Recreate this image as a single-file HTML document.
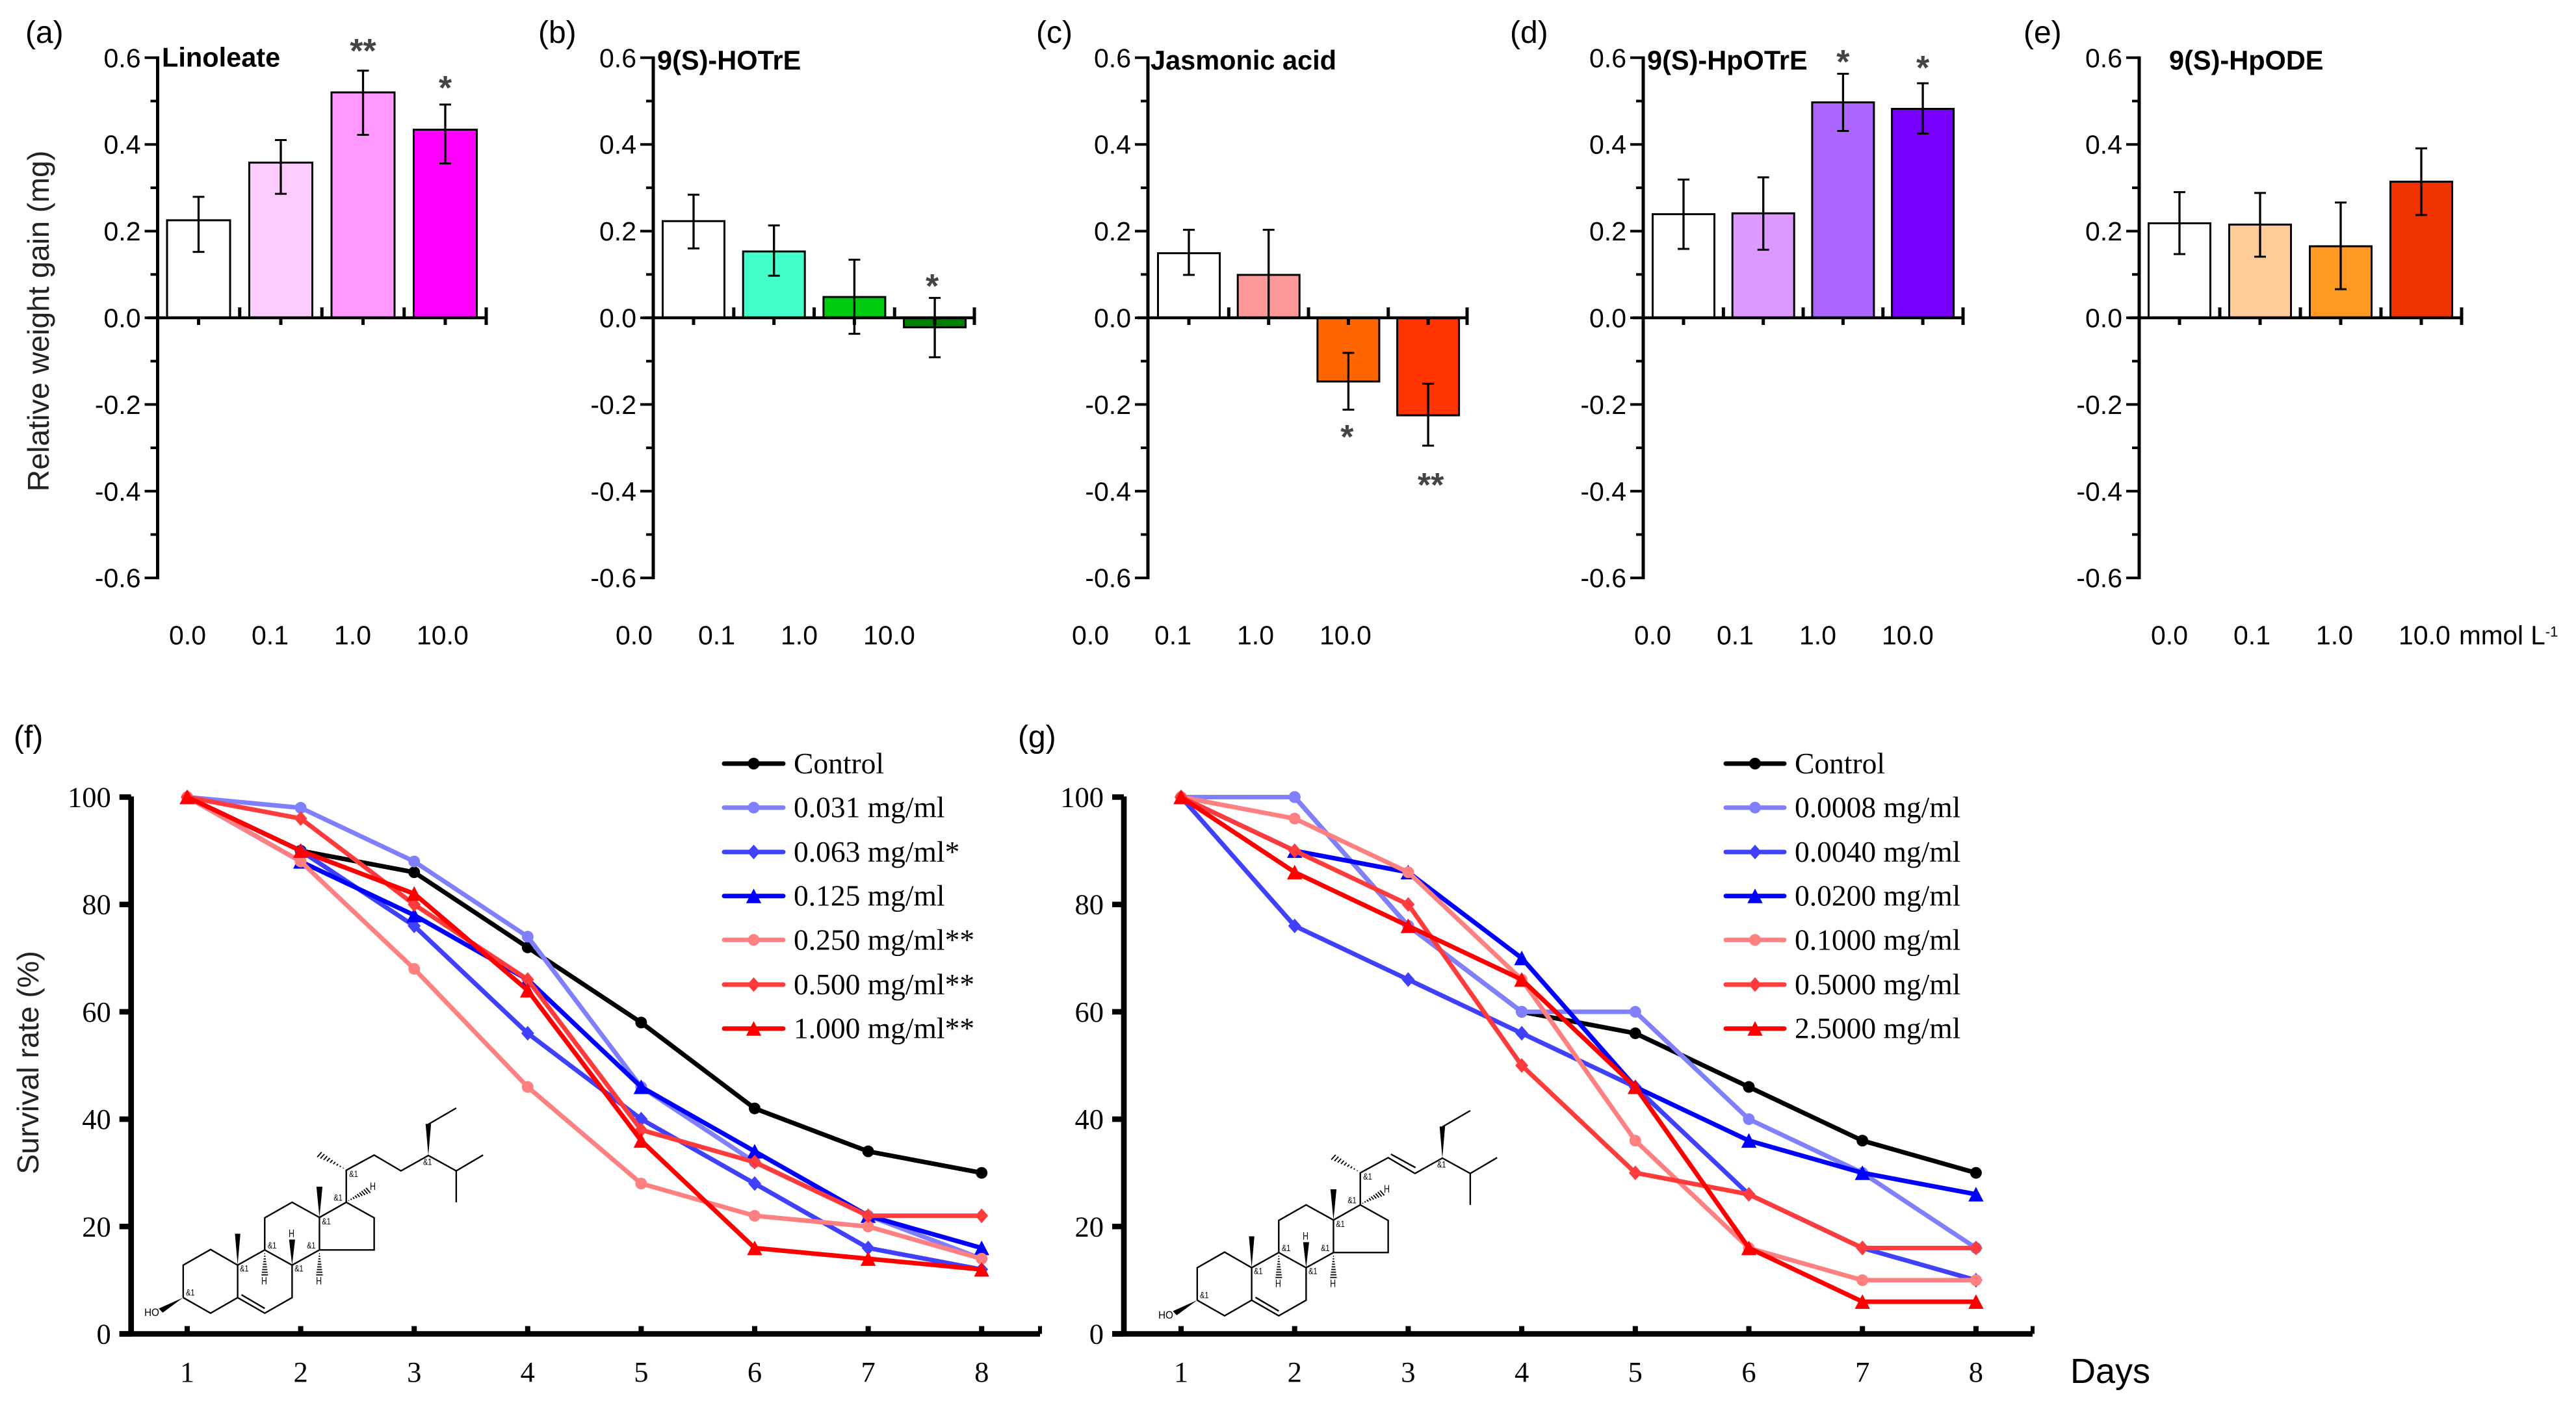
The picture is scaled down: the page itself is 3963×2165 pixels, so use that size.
<!DOCTYPE html>
<html lang="en">
<head>
<meta charset="utf-8">
<title>Weight gain and survival charts</title>
<style>
html,body{margin:0;padding:0;background:#fff;}
svg{display:block;}
.sans{font-family:"Liberation Sans",Arial,sans-serif;}
.serif{font-family:"Liberation Serif","Times New Roman",serif;}
</style>
</head>
<body>
<svg id="figure" xmlns="http://www.w3.org/2000/svg" width="3963" height="2165" viewBox="0 0 3963 2165"></svg>
<script>
// ---------- Bar chart data ----------
const yTickValues = [0.6, 0.4, 0.2, 0.0, -0.2, -0.4, -0.6];
const yTickLabels = ['0.6', '0.4', '0.2', '0.0', '-0.2', '-0.4', '-0.6'];
const yMinorValues = [0.5, 0.3, 0.1, -0.1, -0.3, -0.5];
const doseLabels = ['0.0', '0.1', '1.0', '10.0'];

const linoleateValues = [0.225, 0.358, 0.52, 0.434];
const linoleateHigh = [0.279, 0.41, 0.57, 0.492];
const linoleateLow = [0.152, 0.286, 0.422, 0.356];
const linoleateStars = ['', '', '**', '*'];

const hotreValues = [0.223, 0.153, 0.048, -0.022];
const hotreHigh = [0.284, 0.213, 0.134, 0.046];
const hotreLow = [0.16, 0.097, -0.037, -0.091];
const hotreStars = ['', '', '', '*'];

const jasmonicValues = [0.149, 0.099, -0.147, -0.225];
const jasmonicHigh = [0.203, 0.203, -0.081, -0.152];
const jasmonicLow = [0.099, 0.0, -0.212, -0.295];
const jasmonicStars = ['', '', '*', '**'];

const hpotreValues = [0.239, 0.241, 0.497, 0.482];
const hpotreHigh = [0.319, 0.324, 0.563, 0.541];
const hpotreLow = [0.159, 0.157, 0.431, 0.425];
const hpotreStars = ['', '', '*', '*'];

const hpodeValues = [0.218, 0.215, 0.165, 0.314];
const hpodeHigh = [0.29, 0.288, 0.266, 0.391];
const hpodeLow = [0.147, 0.141, 0.066, 0.237];
const hpodeStars = ['', '', '', ''];

// ---------- Line chart data ----------
const days = [1, 2, 3, 4, 5, 6, 7, 8];
const survivalTicks = [100, 80, 60, 40, 20, 0];

const fControl = [100, 90, 86, 72, 58, 42, 34, 30];
const f0031 = [100, 98, 88, 74, 46, 32, 22, 14];
const f0063 = [100, 90, 76, 56, 40, 28, 16, 12];
const f0125 = [100, 88, 78, 66, 46, 34, 22, 16];
const f0250 = [100, 88, 68, 46, 28, 22, 20, 14];
const f0500 = [100, 96, 80, 66, 38, 32, 22, 22];
const f1000 = [100, 90, 82, 64, 36, 16, 14, 12];
const fLabels = ['Control', '0.031 mg/ml', '0.063 mg/ml*', '0.125 mg/ml', '0.250 mg/ml**', '0.500 mg/ml**', '1.000 mg/ml**'];

const gControl = [100, 100, 76, 60, 56, 46, 36, 30];
const g00008 = [100, 100, 76, 60, 60, 40, 30, 16];
const g00040 = [100, 76, 66, 56, 46, 26, 16, 10];
const g00200 = [100, 90, 86, 70, 46, 36, 30, 26];
const g01000 = [100, 96, 86, 66, 36, 16, 10, 10];
const g05000 = [100, 90, 80, 50, 30, 26, 16, 16];
const g25000 = [100, 86, 76, 66, 46, 16, 6, 6];
const gLabels = ['Control', '0.0008 mg/ml', '0.0040 mg/ml', '0.0200 mg/ml', '0.1000 mg/ml', '0.5000 mg/ml', '2.5000 mg/ml'];

// ---------- Helpers ----------
const NS = 'http://www.w3.org/2000/svg';
const root = document.getElementById('figure');

function mk(parent, tag, attrs, name) {
  const el = document.createElementNS(NS, tag);
  for (const k in attrs) el.setAttribute(k, attrs[k]);
  
  
  parent.appendChild(el);
  return el;
}
function line(p, x1, y1, x2, y2, w, color, name) {
  return mk(p, 'line', {x1: x1, y1: y1, x2: x2, y2: y2, stroke: color || '#000', 'stroke-width': w}, name);
}
function txt(p, x, y, s, size, cls, name, extra) {
  const a = {x: x, y: y, 'font-size': size, class: cls, fill: '#000'};
  if (extra) for (const k in extra) a[k] = extra[k];
  const el = mk(p, 'text', a, name);
  el.textContent = s;
  return el;
}

// ---------- Bar panels ----------
const yTop = v => 489 - v * 667;

const panels = [
  {id: 'a', axis: 242.5, first: 305.5, step: 126.5, barW: 97, end: 748, lab: 260, letter: '(a)', letterX: 39, title: 'Linoleate', titleX: 249, titleY: 88,
   vals: linoleateValues, hi: linoleateHigh, lo: linoleateLow, stars: linoleateStars, colors: ['#ffffff', '#ffccff', '#ff99ff', '#ff00ff'],
   starDx: [0, 0, 0, 0], starY: [0, 0, 72, 129]},
  {id: 'b', axis: 1005, first: 1067, step: 123.7, barW: 95, end: 1499, lab: 947, letter: '(b)', letterX: 828, title: '9(S)-HOTrE', titleX: 1011, titleY: 92.6,
   vals: hotreValues, hi: hotreHigh, lo: hotreLow, stars: hotreStars, colors: ['#ffffff', '#44ffcc', '#00cc11', '#008000'],
   starDx: [0, 0, 0, -4], starY: [0, 0, 0, 434]},
  {id: 'c', axis: 1766, first: 1829, step: 122.7, barW: 95, end: 2257, lab: 1649, letter: '(c)', letterX: 1594, title: 'Jasmonic acid', titleX: 1770, titleY: 92.6,
   vals: jasmonicValues, hi: jasmonicHigh, lo: jasmonicLow, stars: jasmonicStars, colors: ['#ffffff', '#ff9999', '#ff6600', '#ff3300'],
   starDx: [0, 0, -2, 4], starY: [0, 0, 666, 740]},
  {id: 'd', axis: 2528, first: 2590, step: 122.7, barW: 95, end: 3020, lab: 2514, letter: '(d)', letterX: 2323, title: '9(S)-HpOTrE', titleX: 2534, titleY: 92.6,
   vals: hpotreValues, hi: hpotreHigh, lo: hpotreLow, stars: hpotreStars, colors: ['#ffffff', '#dd99ff', '#aa66ff', '#7700ff'],
   starDx: [0, 0, 0, 0], starY: [0, 0, 89, 98]},
  {id: 'e', axis: 3291, first: 3353, step: 124, barW: 95, end: 3787, lab: 3309, letter: '(e)', letterX: 3113, title: '9(S)-HpODE', titleX: 3337, titleY: 92.6,
   vals: hpodeValues, hi: hpodeHigh, lo: hpodeLow, stars: hpodeStars, colors: ['#ffffff', '#ffcc99', '#ff9922', '#ee3300'],
   starDx: [0, 0, 0, 0], starY: [0, 0, 0, 0]}
];

panels.forEach(function (P) {
  const g = mk(root, 'g', {}, 'panel-' + P.id);
  const xAt = i => P.first + i * P.step;

  txt(g, P.letterX, 66, P.letter, 48, 'sans', 'panel-label-' + P.id);
  txt(g, P.titleX, P.titleY + 14.5, P.title, 41.5, 'sans', 'panel-title-' + P.id, {'font-weight': 'bold'});

  // bars
  P.vals.forEach(function (v, i) {
    const y1 = yTop(Math.max(v, 0)), y2 = yTop(Math.min(v, 0));
    mk(g, 'rect', {x: xAt(i) - P.barW / 2, y: y1, width: P.barW, height: y2 - y1, fill: P.colors[i], stroke: '#000', 'stroke-width': 3}, 'bar-' + P.id + '-' + doseLabels[i]);
  });

  // y axis
  line(g, P.axis, yTop(0.6) - 2, P.axis, yTop(-0.6) + 2, 5, '#000', 'y-axis-' + P.id);
  yTickValues.forEach(function (v, i) {
    line(g, P.axis - 20, yTop(v), P.axis, yTop(v), 4, '#000', 'y-tick-' + P.id);
    txt(g, P.axis - 26, yTop(v) + 14.5, yTickLabels[i], 41, 'sans', 'y-tick-label-' + P.id, {'text-anchor': 'end'});
  });
  yMinorValues.forEach(function (v) {
    line(g, P.axis - 11, yTop(v), P.axis, yTop(v), 4, '#000', 'y-minor-tick-' + P.id);
  });

  // x axis at zero
  line(g, P.axis - 16, yTop(0), P.end + 2, yTop(0), 4.5, '#000', 'x-axis-' + P.id);
  doseLabels.forEach(function (s, i) {
    line(g, xAt(i), yTop(0), xAt(i), yTop(0) + 11, 5, '#000', 'x-tick-' + P.id);
    if (i > 0) line(g, xAt(i) - P.step / 2, yTop(0) - 16, xAt(i) - P.step / 2, yTop(0), 5, '#000', 'x-minor-tick-' + P.id);
    txt(g, P.lab + i * 127, 991.5, s, 41, 'sans', 'x-tick-label-' + P.id);
  });
  line(g, P.end, yTop(0) - 16, P.end, yTop(0) + 11, 5, '#000', 'x-axis-end-tick-' + P.id);

  // error bars
  P.vals.forEach(function (v, i) {
    const x = xAt(i), t = yTop(P.hi[i]), b = yTop(P.lo[i]);
    line(g, x, t, x, b, 3.3, '#000', 'error-bar-' + P.id);
    line(g, x - 9, t, x + 9, t, 3, '#000', 'error-cap-high-' + P.id);
    line(g, x - 9, b, x + 9, b, 3, '#000', 'error-cap-low-' + P.id);
  });

  // significance stars
  P.stars.forEach(function (s, i) {
    if (!s) return;
    txt(g, xAt(i) + P.starDx[i], P.starY[i] + 24, s, 52, 'sans', 'significance-star-' + P.id, {'text-anchor': 'middle', fill: '#444444', 'font-weight': 'bold'});
  });
});

txt(root, 0, 0, 'Relative weight gain (mg)', 46.5, 'sans', 'y-axis-title-weight', {'text-anchor': 'middle', transform: 'translate(75,494) rotate(-90)', fill: '#222222'});
const unit = txt(root, 3783, 991.5, 'mmol L', 40.5, 'sans', 'x-unit-label');
const unitSup = document.createElementNS(NS, 'tspan');
unitSup.setAttribute('font-size', '22');
unitSup.setAttribute('dy', '-12');
unitSup.textContent = '-1';
unit.appendChild(unitSup);

// ---------- Line panels ----------
const ySurv = v => 2052.5 - v * 8.26;
const seriesColors = ['#000000', '#8080ff', '#4040ff', '#0000ff', '#ff8080', '#ff3b3b', '#ff0000'];
const seriesMarkers = ['circle', 'circle', 'diamond', 'triangle', 'circle', 'diamond', 'triangle'];

function marker(p, type, x, y, color, name) {
  if (type === 'circle') {
    mk(p, 'circle', {cx: x, cy: y, r: 9, fill: color}, name);
  } else if (type === 'diamond') {
    mk(p, 'polygon', {points: (x - 10) + ',' + y + ' ' + x + ',' + (y - 11.3) + ' ' + (x + 10) + ',' + y + ' ' + x + ',' + (y + 11.3), fill: color}, name);
  } else {
    mk(p, 'polygon', {points: (x - 11.7) + ',' + (y + 11) + ' ' + x + ',' + (y - 11.5) + ' ' + (x + 11.7) + ',' + (y + 11), fill: color}, name);
  }
}

function linePanel(cfg) {
  const g = mk(root, 'g', {}, 'panel-' + cfg.id);
  const xs = d => cfg.first + (d - 1) * cfg.step;

  txt(g, cfg.letterX, 1150, cfg.letter, 48, 'sans', 'panel-label-' + cfg.id);

  line(g, cfg.axis, ySurv(100) - 1, cfg.axis, ySurv(0) + 4, 8.7, '#000', 'y-axis-' + cfg.id);
  line(g, cfg.axis - 18, ySurv(0), cfg.end, ySurv(0), 8.5, '#000', 'x-axis-' + cfg.id);
  line(g, cfg.end, ySurv(0) - 12, cfg.end, ySurv(0), 6, '#000', 'x-axis-end-tick-' + cfg.id);

  survivalTicks.forEach(function (v) {
    line(g, cfg.axis - 18, ySurv(v), cfg.axis, ySurv(v), 8.5, '#000', 'y-tick-' + cfg.id);
    txt(g, cfg.axis - 31, ySurv(v) + 15, String(v), 44.5, 'serif', 'y-tick-label-' + cfg.id, {'text-anchor': 'end'});
  });
  days.forEach(function (d) {
    line(g, xs(d), ySurv(0) - 12, xs(d), ySurv(0), 8, '#000', 'x-tick-' + cfg.id);
    txt(g, xs(d), 2126, String(d), 44.5, 'serif', 'x-tick-label-' + cfg.id, {'text-anchor': 'middle'});
  });

  cfg.series.forEach(function (vals, s) {
    const sg = mk(g, 'g', {}, 'series-' + cfg.id + '-' + s);
    const pts = vals.map((v, i) => xs(days[i]) + ',' + ySurv(v)).join(' ');
    mk(sg, 'polyline', {points: pts, fill: 'none', stroke: seriesColors[s], 'stroke-width': 7, 'stroke-linejoin': 'round'}, 'line-' + cfg.id + '-' + s);
    vals.forEach(function (v, i) {
      marker(sg, seriesMarkers[s], xs(days[i]), ySurv(v), seriesColors[s], 'point-' + cfg.id + '-' + s);
    });
  });

  const legendY = [1175, 1242.7, 1311, 1378.7, 1446.3, 1515, 1582.7];
  cfg.labels.forEach(function (s, i) {
    const lg = mk(g, 'g', {}, 'legend-entry-' + cfg.id + '-' + i);
    const ll = line(lg, cfg.legX1 + 3, legendY[i], cfg.legX2 - 3, legendY[i], 7, seriesColors[i], 'legend-line');
    ll.setAttribute('stroke-linecap', 'round');
    marker(lg, seriesMarkers[i], (cfg.legX1 + cfg.legX2) / 2, legendY[i], seriesColors[i], 'legend-marker');
    txt(lg, cfg.legT, legendY[i] + 15, s, 45.5, 'serif', 'legend-label');
  });
}

linePanel({id: 'f', letter: '(f)', letterX: 21, axis: 201.7, end: 1600, first: 288, step: 174.6,
  series: [fControl, f0031, f0063, f0125, f0250, f0500, f1000], labels: fLabels, legX1: 1111, legX2: 1208, legT: 1221});
linePanel({id: 'g', letter: '(g)', letterX: 1566, axis: 1729, end: 3127, first: 1817, step: 174.7,
  series: [gControl, g00008, g00040, g00200, g01000, g05000, g25000], labels: gLabels, legX1: 2652, legX2: 2748, legT: 2761});

txt(root, 0, 0, 'Survival rate (%)', 46.5, 'sans', 'y-axis-title-survival', {'text-anchor': 'middle', transform: 'translate(59,1635) rotate(-90)', fill: '#222222'});
txt(root, 3185, 2128, 'Days', 54, 'sans', 'x-axis-title-days');

// ---------- Sterol structures ----------
function sterol(ox, oy, unsaturated, name) {
  const g = mk(root, 'g', {}, name);
  const X = z => ox + z / 2.376, Y = z => oy + z / 3;
  const paths = [
    [[242,1040],[242,890],[342,818],[441,890],[441,1040],[342,1112],[242,1040]],
    [[441,890],[540,820],[640,890],[640,1040],[540,1112],[441,1040]],
    [[540,820],[540,672],[640,600],[740,670],[740,820],[640,890]],
    [[740,670],[838,600],[940,672],[940,820],[740,820]],
    [[838,600],[838,452],[940,382],[1038,455],[1138,384],[1240,455],[1338,382]],
    [[1240,455],[1240,600]],
    [[1138,240],[1240,165]],
    [[455,1027],[540,1090]]
  ];
  if (unsaturated) paths.push([[950,366],[1040,428]]);
  paths.forEach(function (pts) {
    mk(g, 'polyline', {points: pts.map(q => X(q[0]) + ',' + Y(q[1])).join(' '), fill: 'none', stroke: '#000', 'stroke-width': 2.4}, 'bond');
  });
  const wedges = [[441,890,441,745,10],[740,670,740,528,11],[242,1040,160,1100,12],[640,890,640,772,11],[1138,384,1138,238,10]];
  wedges.forEach(function (w) {
    const dx = w[2] - w[0], dy = w[3] - w[1], l = Math.hypot(dx, dy), nx = -dy / l * w[4], ny = dx / l * w[4];
    mk(g, 'polygon', {points: X(w[0]) + ',' + Y(w[1]) + ' ' + X(w[2] + nx) + ',' + Y(w[3] + ny) + ' ' + X(w[2] - nx) + ',' + Y(w[3] - ny), fill: '#000'}, 'wedge-bond');
  });
  const hashes = [[540,825,540,935,12],[740,825,740,935,12],[838,598,918,545,14],[838,450,740,380,14]];
  hashes.forEach(function (h) {
    for (let k = 1; k <= 9; k++) {
      const t = k / 9, cx = h[0] + (h[2] - h[0]) * t, cy = h[1] + (h[3] - h[1]) * t;
      const dx = h[2] - h[0], dy = h[3] - h[1], l = Math.hypot(dx, dy), nx = -dy / l * h[4] * t, ny = dx / l * h[4] * t;
      line(g, X(cx + nx), Y(cy + ny), X(cx - nx), Y(cy - ny), 1.8, '#000', 'hash-bond');
    }
  });
  const hLabels = [[638,743],[538,962],[738,962],[935,525]];
  hLabels.forEach(function (q) {
    txt(g, X(q[0]), Y(q[1]) + 6, 'H', 17, 'sans', 'hydrogen-label', {'text-anchor': 'middle', textLength: 9, lengthAdjust: 'spacingAndGlyphs'});
  });
  txt(g, X(127), Y(1107) + 6, 'HO', 17, 'sans', 'hydroxyl-label', {'text-anchor': 'middle', textLength: 23, lengthAdjust: 'spacingAndGlyphs'});
  const stereo = [[268,1016],[465,905],[567,798],[665,905],[710,798],[765,687],[808,577],[865,468],[1135,413]];
  stereo.forEach(function (q) {
    txt(g, X(q[0]), Y(q[1]) + 5, '&1', 14, 'sans', 'stereo-label', {'text-anchor': 'middle', textLength: 13.5, lengthAdjust: 'spacingAndGlyphs'});
  });
}
sterol(180, 1650, false, 'sterol-structure-f');
sterol(1740, 1654, true, 'sterol-structure-g');
</script>
</body>
</html>
